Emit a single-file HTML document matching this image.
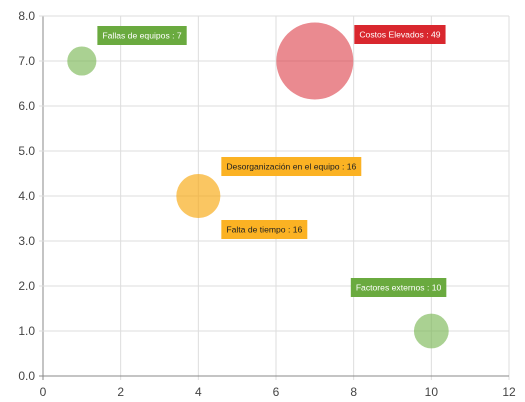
<!DOCTYPE html>
<html><head><meta charset="utf-8"><style>
body{margin:0;background:#fff;}
svg{display:block;font-family:"Liberation Sans",Arial,sans-serif;}
</style></head><body>
<svg id="chart" width="525" height="402" xmlns="http://www.w3.org/2000/svg"></svg>
<script>
const labels=["Fallas de equipos","Costos Elevados","Desorganización en el equipo","Falta de tiempo","Factores externos"];
const xVals=[1,7,4,4,10];
const yVals=[7,7,4,4,1];
const sizes=[7,49,16,16,10];
const xTicks=[0,2,4,6,8,10,12];
const yTicks=[0,1,2,3,4,5,6,7,8];
// style/layout (not data)
const colors=["#6aaa3f","#d9272e","#fbb223","#fbb223","#6aaa3f"];
const bubbleFill=["rgba(124,185,88,0.65)","rgba(220,60,70,0.6)","rgba(247,170,20,0.42)","rgba(247,170,20,0.42)","rgba(124,185,88,0.65)"];
const textColors=["#fff","#fff","#222","#222","#fff"];
const labelDx=[1,1,1,1,-87];
const labelDy=[-35,-36,-39,24,-53];

const svg=document.getElementById('chart');
const NS="http://www.w3.org/2000/svg";
const X0=43,X1=509,Y0=376,Y1=16;
const xs=v=>X0+(v-0)/(12-0)*(X1-X0);
const ys=v=>Y0-(v-0)/(8-0)*(Y0-Y1);
const rs=v=>5.5*Math.sqrt(v);
function mk(t,a,p){const e=document.createElementNS(NS,t);for(const k in a)e.setAttribute(k,a[k]);(p||svg).appendChild(e);return e;}

xTicks.forEach(t=>{
  const l=mk('line',{x1:xs(t),x2:xs(t),y1:Y1,y2:Y0+4,stroke:t===0?'#888':'#ddd','stroke-width':1});
  
  
  const tx=mk('text',{x:xs(t),y:Y0+20,'text-anchor':'middle','font-size':12,fill:'#444'});
  tx.textContent=t;
  
  
});
yTicks.forEach(t=>{
  const l=mk('line',{x1:X0-4,x2:X1,y1:ys(t),y2:ys(t),stroke:t===0?'#888':'#ddd','stroke-width':1});
  
  
  const tx=mk('text',{x:X0-8,y:ys(t)+4,'text-anchor':'end','font-size':12,fill:'#444'});
  tx.textContent=t.toFixed(1);
  
  
});

labels.forEach((lab,i)=>{
  const cx=xs(xVals[i]),cy=ys(yVals[i]),r=rs(sizes[i]);
  const c=mk('circle',{cx:cx,cy:cy,r:r,fill:bubbleFill[i]});
  
  
});
labels.forEach((lab,i)=>{
  const cx=xs(xVals[i]),cy=ys(yVals[i]),r=rs(sizes[i]);
  const g=mk('g',{});
  
  
  const txt=lab+' : '+sizes[i];
  const t=mk('text',{'font-size':8.6,fill:textColors[i]},g);
  t.textContent=txt;
  const w=t.getComputedTextLength()+10;
  const left=labelDx[i]<0?cx+15-w:cx+r+labelDx[i];
  const top=cy+labelDy[i];
  const rc=mk('rect',{x:left,y:top,width:w,height:19,fill:colors[i]});
  g.insertBefore(rc,t);
  t.setAttribute('x',left+5);t.setAttribute('y',top+12.5);
});
</script>
</body></html>
